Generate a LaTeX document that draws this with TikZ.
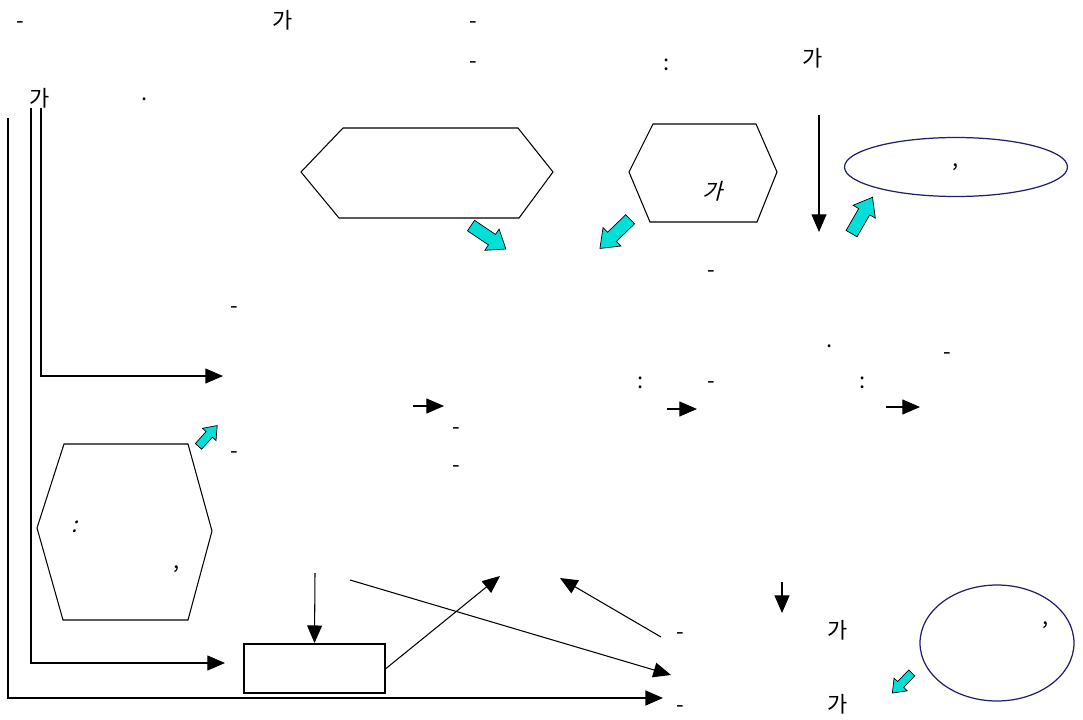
\documentclass[tikz,border=0pt]{standalone}
\usepackage{fontspec}
\setmainfont{Noto Sans CJK KR}
\newfontfamily\slantkr[FakeSlant=0.25]{Noto Sans CJK KR}
\usetikzlibrary{arrows.meta,shapes.geometric,shapes.arrows}
\definecolor{aqua}{HTML}{00E0D8}
\definecolor{navyline}{HTML}{1F1F6B}
\tikzstyle{lbl} = [inner sep=0pt, text height=0.88em, text depth=0.12em]
\tikzstyle{hexa} = [draw, line width=0.6pt]
\tikzstyle{oval} = [ellipse, draw=navyline, line width=0.7pt, inner sep=0pt]
\tikzstyle{blk} = [single arrow, draw=black, fill=aqua, line width=0.4pt,
    inner xsep=0pt, inner ysep=3.4pt, single arrow head extend=3.7pt,
    single arrow tip angle=75, minimum height=0.84cm]
\tikzstyle{blksmall} = [blk, inner ysep=2.2pt, single arrow head extend=2.8pt,
    minimum height=0.56cm]
\begin{document}
\begin{tikzpicture}[x=0.02cm,y=-0.02cm,>={Triangle[length=10pt,width=8.5pt]},
                    line width=0.6pt,font=\fontsize{12.5}{15}\selectfont]
  \useasboundingbox (0,0) rectangle (1083,720);

  % text at the top
  \node[lbl] (n1) at (20,22)   {-};
  \node[lbl] (n2) at (283,22)  {가};
  \node[lbl] (n3) at (473,22)  {-};
  \node[lbl] (n4) at (473,62)  {-};
  \node[lbl] (n5) at (667,64)  {:};
  \node[lbl] (n6) at (813,60)  {가};
  \node[lbl] (n7) at (40,100)  {가};
  \node[lbl] (n8) at (145,94)  {.};

  % hexagons and ovals
  \draw[hexa] (301,172) -- (343,128) -- (518,128) -- (553,172) -- (519,218) -- (339,218) -- cycle;
  \draw[hexa] (629,172) -- (653,124) -- (756,124) -- (777,172) -- (757,222) -- (650,222) -- cycle;
  \node[lbl,font=\fontsize{12.5}{15}\slantkr] (h2) at (713,193) {가};
  \node[oval, minimum width=4.46cm, minimum height=1.18cm] (ov1) at (956,167) {,};
  \draw[hexa] (37,528) -- (64,444) -- (188,444) -- (212,531) -- (188,620) -- (63,620) -- cycle;
  \node[lbl,font=\fontsize{12.5}{15}\slantkr] (h3a) at (75,526) {:};
  \node[lbl] (h3b) at (177,562) {,};
  \node[oval, minimum width=3.08cm, minimum height=2.32cm] (ov2) at (997,643) {};
  \node[lbl] (ov2t) at (1046,618) {,};
  \node[draw, line width=1.1pt, minimum width=2.82cm, minimum height=0.98cm] (box) at (314.5,668.5) {};

  % cyan block arrows
  \node[blk, rotate=-34] (c1) at (485,235) {};
  \node[blk, rotate=224] (c2) at (618,231) {};
  \node[blk, rotate=60]  (c3) at (860,219) {};
  \node[blksmall, rotate=48]  (c4) at (206,438) {};
  \node[blksmall, rotate=226] (c5) at (904,681) {};

  % text in the middle
  \node[lbl] (m1) at (711,271) {-};
  \node[lbl] (m2) at (234,307) {-};
  \node[lbl] (m3) at (830,341) {.};
  \node[lbl] (m4) at (947,353) {-};
  \node[lbl] (m5) at (641,382) {:};
  \node[lbl] (m6) at (711,382) {-};
  \node[lbl] (m7) at (863,382) {:};
  \node[lbl] (m8) at (456,428) {-};
  \node[lbl] (m9) at (234,452) {-};
  \node[lbl] (m10) at (456,466) {-};

  % text at the bottom
  \node[lbl] (b1) at (680,633) {-};
  \node[lbl] (b2) at (838,632) {가};
  \node[lbl] (b3) at (680,706) {-};
  \node[lbl] (b4) at (838,706) {가};

  % free ends
  \coordinate (o1) at (8,118);
  \coordinate (o2) at (31,108);
  \coordinate (o3) at (41,108);
  \coordinate (e1) at (663,698);
  \coordinate (e2) at (225,663);
  \coordinate (e3) at (223,376);
  \coordinate (d1) at (819,115);
  \coordinate (d2) at (819,232);
  \coordinate (s1) at (413,406);  \coordinate (s2) at (444,406);
  \coordinate (s3) at (667,409);  \coordinate (s4) at (697,409);
  \coordinate (s5) at (886,407);  \coordinate (s6) at (920,407);
  \coordinate (r1) at (315,573);
  \coordinate (r2) at (500,576);
  \coordinate (x1) at (350,580);
  \coordinate (x2) at (671,675);
  \coordinate (u1) at (661,637);
  \coordinate (u2) at (560,578);
  \coordinate (v1) at (782,582);
  \coordinate (v2) at (782,613);

  % connectors
  \draw[->, line width=0.8pt] (o1) |- (e1);
  \draw[->] (o2) |- (e2);
  \draw[->] (o3) |- (e3);
  \draw[->] (d1) -- (d2);
  \draw[->] (s1) -- (s2);
  \draw[->] (s3) -- (s4);
  \draw[->] (s5) -- (s6);
  \draw[->] (r1) -- (box.north);
  \draw[->] (box.east) -- (r2);
  \draw[->] (x1) -- (x2);
  \draw[->] (u1) -- (u2);
  \draw[->] (v1) -- (v2);
\end{tikzpicture}
\end{document}
